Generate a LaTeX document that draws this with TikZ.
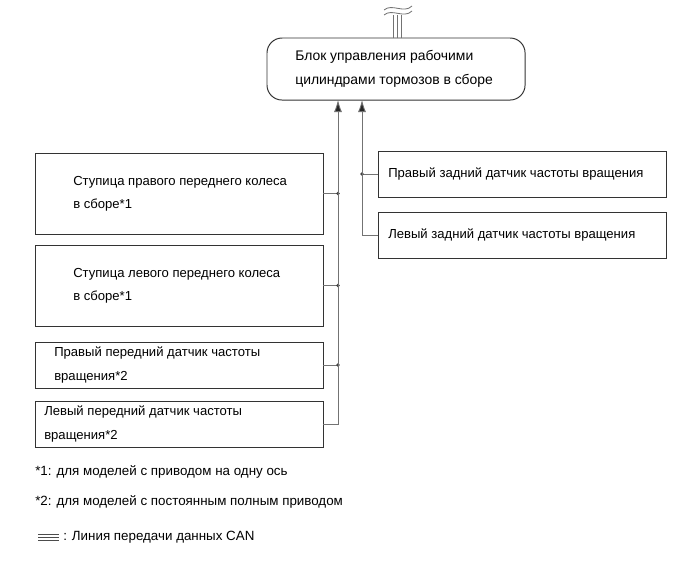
\documentclass[tikz,border=0pt]{standalone}
\usepackage{fontspec}
\setmainfont{Liberation Sans}
\usetikzlibrary{arrows.meta}
\usetikzlibrary{calc}

\begin{document}
\begin{tikzpicture}[x=0.025cm, y=-0.025cm,
    box/.style={draw=black!80, line width=0.7pt, anchor=north west, minimum width=7.2cm, inner sep=0pt, outer sep=0pt},
    txt/.style={anchor=west, align=left, inner sep=0pt, font=\fontsize{9.3}{16.5}\selectfont},
    link/.style={draw=black!55, line width=0.6pt},
    feed/.style={link, -{Latex[length=3mm,width=2mm,fill=black!85]}}]
        \useasboundingbox (0,0) rectangle (690,562);

        % control unit
        \node[box, rounded corners=0.375cm, minimum width=6.45cm, minimum height=1.55cm] (ecu) at (267,38) {};
        \node[txt, font=\fontsize{9.9}{17}\selectfont] (ecu-t) at ($(ecu.west)+(28,0)$) {Блок управления рабочими\\цилиндрами тормозов в сборе};

        % CAN line
        \foreach \dx in {-3,1,5}
            \draw[link] ($(ecu.north)+(\dx,0)$) -- ++(0,-23);
        \foreach \dy in {0,5}
            \draw[link] (384,10+\dy) .. controls (392,3+\dy) and (404,14+\dy) .. (412,6+\dy);

        % front boxes
        \node[box, minimum height=2.025cm] (hubfr) at (35,153) {};
        \node[txt] (hubfr-t) at ($(hubfr.west)+(38,0)$) {Ступица правого переднего колеса\\в сборе*1};
        \node[box, minimum height=2.025cm] (hubfl) at (35,245) {};
        \node[txt] (hubfl-t) at ($(hubfl.west)+(38,0)$) {Ступица левого переднего колеса\\в сборе*1};
        \node[box, minimum height=1.15cm] (sensfr) at (35,342) {};
        \node[txt] (sensfr-t) at ($(sensfr.west)+(19,0)$) {Правый передний датчик частоты\\вращения*2};
        \node[box, minimum height=1.15cm] (sensfl) at (35,401) {};
        \node[txt] (sensfl-t) at ($(sensfl.west)+(9,0)$) {Левый передний датчик частоты\\вращения*2};

        % rear boxes
        \node[box, minimum height=1.15cm] (sensrr) at (378,151) {};
        \node[txt] (sensrr-t) at ($(sensrr.west)+(10,0)$) {Правый задний датчик частоты вращения};
        \node[box, minimum height=1.15cm] (sensrl) at (378,212) {};
        \node[txt] (sensrl-t) at ($(sensrl.west)+(10,0)$) {Левый задний датчик частоты вращения};

        % wiring
        \coordinate (busl) at (338,100);
        \coordinate (busr) at (362,100);
        \foreach \n in {hubfr,hubfl,sensfr} {
            \draw[link] (\n.east) -- (\n.east -| busl);
            \fill[black!75] (\n.east -| busl) circle (1.3pt);
        }
        \draw[feed] (sensfl.east) -| (busl);
        \draw[link] (sensrr.west) -- (sensrr.west -| busr);
        \fill[black!75] (sensrr.west -| busr) circle (1.3pt);
        \draw[feed] (sensrl.west) -| (busr);

        % notes
        \node[txt, font=\fontsize{9.5}{17}\selectfont, anchor=base west] (note1) at (35,475) {*1: для моделей с приводом на одну ось};
        \node[txt, font=\fontsize{9.5}{17}\selectfont, anchor=base west] (note2) at (35,505) {*2: для моделей с постоянным полным приводом};
        \foreach \y in {534,537,540}
            \draw[black!70, line width=0.5pt] (38,\y) -- (59,\y);
        \node[txt, font=\fontsize{9.5}{17}\selectfont, anchor=base west] (note3) at (63,540) {: Линия передачи данных CAN};
    \end{tikzpicture}
\end{document}
